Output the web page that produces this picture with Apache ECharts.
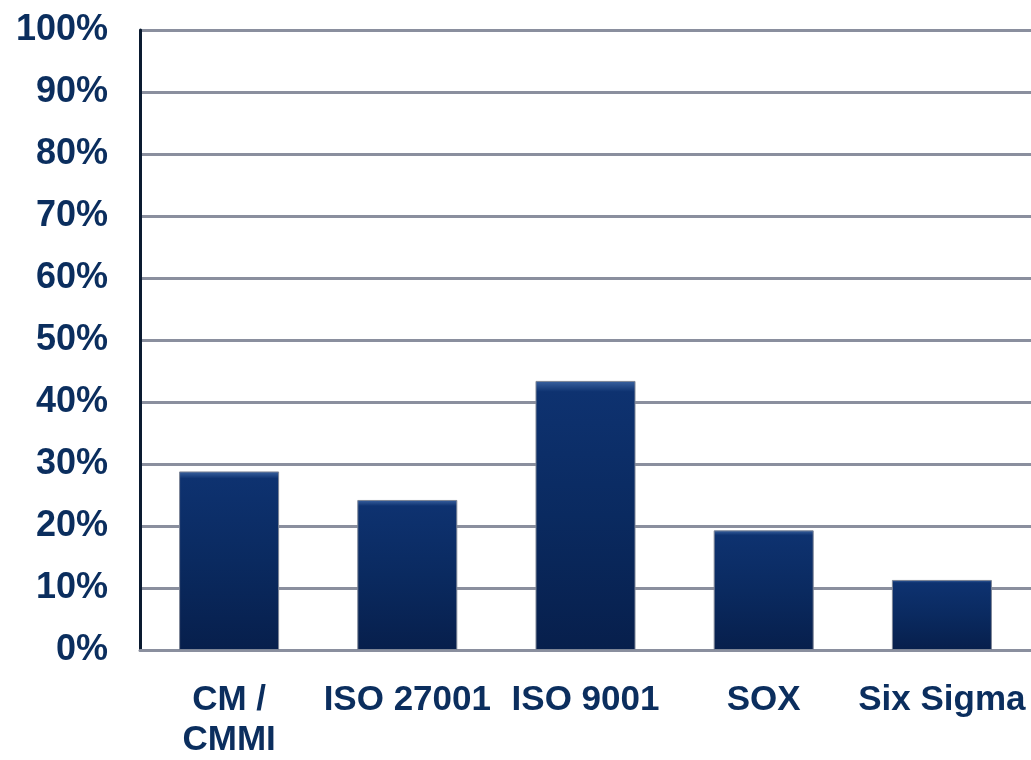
<!DOCTYPE html>
<html>
<head>
<meta charset="utf-8">
<script src="https://cdn.jsdelivr.net/npm/echarts@6/dist/echarts.min.js"></script>
<style>
html,body{margin:0;padding:0;background:#fff;overflow:hidden;}
#chart{width:1031px;height:760px;}
</style>
</head>
<body>
<div id="chart"></div>
<script>
const categories = ['CM /\nCMMI', 'ISO 27001', 'ISO 9001', 'SOX', 'Six Sigma'];
const values = [28.8, 24.2, 43.4, 19.3, 11.3];
const yTicks = [0, 10, 20, 30, 40, 50, 60, 70, 80, 90, 100];

const chart = echarts.init(document.getElementById('chart'));
const labelColor = '#0b2e5e';
chart.setOption({
  animation: false,
  grid: { left: 140, right: 0, top: 30, height: 628, containLabel: false },
  xAxis: {
    type: 'category',
    data: categories,
    axisLine: { show: true, lineStyle: { color: '#8a8f9e', width: 3 } },
    axisTick: { show: false },
    axisLabel: {
      color: labelColor, fontFamily: 'Liberation Sans, Arial, sans-serif',
      fontWeight: 'bold', fontSize: 35, margin: 30, lineHeight: 40, interval: 0
    }
  },
  yAxis: {
    type: 'value',
    min: yTicks[0], max: yTicks[yTicks.length - 1], interval: 10,
    axisLine: { show: true, lineStyle: { color: '#0a1a30', width: 3 } },
    axisTick: { show: false },
    splitLine: { show: true, lineStyle: { color: '#8a8f9e', width: 3 } },
    axisLabel: {
      color: labelColor, fontFamily: 'Liberation Sans, Arial, sans-serif',
      fontWeight: 'bold', fontSize: 36, margin: 32,
      formatter: v => v + '%'
    }
  },
  series: [{
    type: 'bar',
    data: values,
    barWidth: 100,
    itemStyle: {
      color: new echarts.graphic.LinearGradient(0, 0, 0, 1, [
        { offset: 0, color: '#3a62a0' },
        { offset: 0.04, color: '#0e3270' },
        { offset: 0.5, color: '#0a2a60' },
        { offset: 1, color: '#071f4c' }
      ]),
      borderColor: '#7d8596',
      borderWidth: 1
    }
  }]
});
</script>
</body>
</html>
